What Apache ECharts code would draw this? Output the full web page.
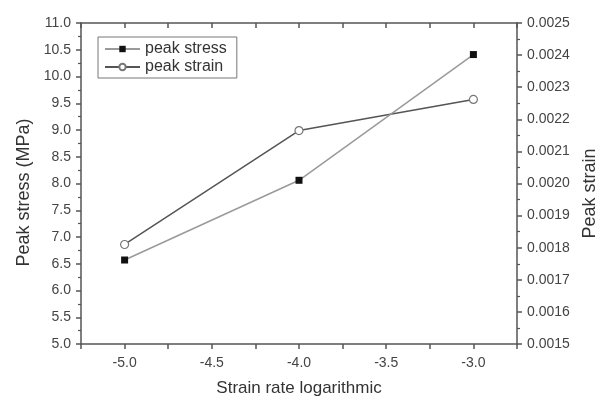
<!DOCTYPE html>
<html>
<head>
<meta charset="utf-8">
<script src="https://cdn.jsdelivr.net/npm/echarts@6/dist/echarts.min.js"></script>
<style>
  html, body { margin: 0; padding: 0; background: #fff; }
  #chart { width: 601px; height: 398px; }
</style>
</head>
<body>
<div id="chart"></div>
<script>
// strain rate (log10)
const strainRateLog = [-5.0, -4.0, -3.0];
// peak stress, MPa (left axis)
const peakStress = [6.57, 8.06, 10.41];
// peak strain (right axis)
const peakStrain = [0.00181, 0.002165, 0.002262];

const FONT = "Liberation Sans, Arial, sans-serif";
const AXIS = "#555";
const LABEL = "#444";

const chart = echarts.init(document.getElementById("chart"));

const stressPoints = strainRateLog.map((x, i) => [x, peakStress[i]]);
const strainPoints = strainRateLog.map((x, i) => [x, peakStrain[i]]);

const xCommon = {
  type: "value",
  min: -5.25,
  max: -2.75,
  interval: 0.25,
  splitLine: { show: false },
  axisLine: { lineStyle: { color: AXIS, width: 1.5 } },
};

chart.setOption({
  animation: false,
  backgroundColor: "#fff",
  grid: { left: 81, top: 23, right: 84, bottom: 54, containLabel: false, outerBoundsMode: "none" },
  legend: {
    orient: "vertical",
    left: 98,
    top: 37,
    padding: [4, 10, 3, 6],
    itemGap: 2,
    itemWidth: 35,
    itemHeight: 8,
    borderColor: "#777",
    borderWidth: 1,
    textStyle: { fontFamily: FONT, fontSize: 16, color: "#333" },
    data: ["peak stress", "peak strain"],
  },
  xAxis: [
    {
      ...xCommon,
      position: "bottom",
      name: "Strain rate logarithmic",
      nameLocation: "middle",
      nameGap: 36,
      nameTextStyle: { fontFamily: FONT, fontSize: 17, color: "#333" },
      axisTick: { length: 5, inside: false, lineStyle: { color: AXIS, width: 1.5 } },
      axisLabel: {
        margin: 12,
        fontFamily: FONT,
        fontSize: 14,
        color: LABEL,
        formatter: (v) => (Math.abs(v * 2 - Math.round(v * 2)) < 1e-6 ? v.toFixed(1) : ""),
      },
    },
    {
      ...xCommon,
      position: "top",
      axisTick: { length: 5, inside: true, lineStyle: { color: AXIS, width: 1.5 } },
      axisLabel: { show: false },
    },
  ],
  yAxis: [
    {
      type: "value",
      position: "left",
      min: 5,
      max: 11,
      interval: 0.5,
      name: "Peak stress (MPa)",
      nameLocation: "middle",
      nameGap: 48,
      nameTextStyle: { fontFamily: FONT, fontSize: 18, color: "#333", padding: [0, 18, 0, 0] },
      splitLine: { show: false },
      axisLine: { show: true, lineStyle: { color: AXIS, width: 1.5 } },
      axisTick: { show: true, length: 5, lineStyle: { color: AXIS, width: 1.5 } },
      minorTick: { show: true, splitNumber: 2, length: 3, lineStyle: { color: AXIS, width: 1.2 } },
      axisLabel: {
        margin: 10,
        fontFamily: FONT,
        fontSize: 14,
        color: LABEL,
        formatter: (v) => v.toFixed(1),
      },
    },
    {
      type: "value",
      position: "right",
      min: 0.0015,
      max: 0.0025,
      interval: 0.0001,
      name: "Peak strain",
      nameLocation: "middle",
      nameGap: 64,
      nameRotate: 90,
      nameTextStyle: { fontFamily: FONT, fontSize: 18, color: "#333", padding: [0, 20, 0, 0] },
      splitLine: { show: false },
      axisLine: { show: true, lineStyle: { color: AXIS, width: 1.5 } },
      axisTick: { show: true, length: 5, lineStyle: { color: AXIS, width: 1.5 } },
      minorTick: { show: true, splitNumber: 2, length: 3, lineStyle: { color: AXIS, width: 1.2 } },
      axisLabel: {
        margin: 10,
        fontFamily: FONT,
        fontSize: 14,
        color: LABEL,
        formatter: (v) => v.toFixed(4),
      },
    },
  ],
  series: [
    {
      name: "peak stress",
      type: "line",
      xAxisIndex: 0,
      yAxisIndex: 0,
      data: stressPoints,
      symbol: "rect",
      symbolSize: 7,
      lineStyle: { color: "#9a9a9a", width: 1.5 },
      itemStyle: { color: "#111", borderColor: "#111", borderWidth: 0 },
      z: 3,
    },
    {
      name: "peak strain",
      type: "line",
      xAxisIndex: 0,
      yAxisIndex: 1,
      data: strainPoints,
      symbol: "circle",
      symbolSize: 8,
      showAllSymbol: true,
      lineStyle: { color: "#555", width: 1.5 },
      itemStyle: { color: "#fff", borderColor: "#777", borderWidth: 1.2 },
      z: 2,
    },
  ],
});
</script>
</body>
</html>
